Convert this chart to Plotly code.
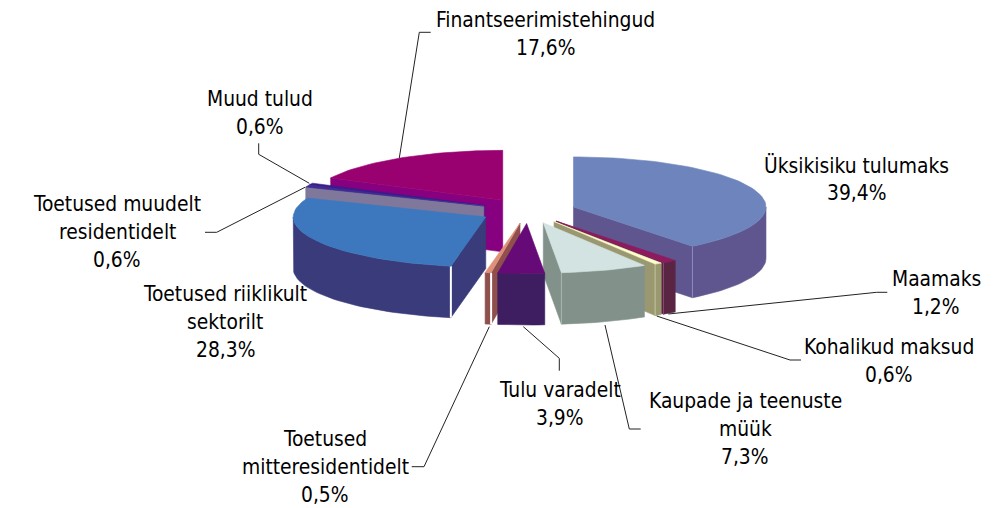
import math
import plotly.graph_objects as go

# --- data (clockwise from 12 o'clock) ---
names = [
    ["Üksikisiku tulumaks"],
    ["Maamaks"],
    ["Kohalikud maksud"],
    ["Kaupade ja teenuste", "müük"],
    ["Tulu varadelt"],
    ["Toetused", "mitteresidentidelt"],
    ["Toetused riiklikult", "sektorilt"],
    ["Toetused muudelt", "residentidelt"],
    ["Muud tulud"],
    ["Finantseerimistehingud"],
]
values = [39.4, 1.2, 0.6, 7.3, 3.9, 0.5, 28.3, 0.6, 0.6, 17.6]
value_labels = ["39,4%", "1,2%", "0,6%", "7,3%", "3,9%", "0,5%", "28,3%", "0,6%", "0,6%", "17,6%"]

# --- styles ---
top_colors = ["#6E84BC", "#8F1B5F", "#FFFFCC", "#D3E3E1", "#660A77", "#E09078",
              "#3D78BE", "#3F2C93", "#3B1B8C", "#990070"]
side_colors = ["#5F5690", "#5A2543", "#9A9870", "#82928B", "#3E1D60", "#8E4F4D",
               "#393B7A", "#80789A", "#3B1B8C", "#870080"]
junction_colors = ["#8A90C0", "#8A4A70", "#C8C8A0", "#A8B8B2", None, "#FFFFFF",
                   "#FFFFFF", None, None, None]
junction_widths = [1, 1, 1, 1, 0, 2, 2, 0, 0, 0]
# painter's order, back to front
draw_order = [9, 0, 8, 7, 6, 1, 2, 3, 5, 4]

# --- projection of the pie ---
CX, CY = 528.0, 211.0
RX, RY = 192.5, 50.0
DEPTH = 51.5
EXPLODE = 0.25
STEP = 2.0

# --- label layout: centre x, first line centre y ---
label_pos = [(856, 165), (936, 279), (889, 347), (745, 401), (560, 390),
             (325, 439), (225, 294), (117, 204), (260, 99), (545, 20)]
LINE_H = 28.2
FONT = "DejaVu Sans Condensed, DejaVu Sans"
FONT_SIZE = 20.8

# --- leader lines ---
leaders = [
    None,
    [(668.3, 314), (876.7, 292.3), (887.3, 292.3)],
    [(656.7, 316), (790, 360), (801, 360)],
    [(605, 325), (629.3, 429), (640.7, 429)],
    [(523.3, 326.7), (559.3, 358.3), (559.3, 370.7)],
    [(489.3, 326.7), (424, 466.7), (411.7, 466.7)],
    None,
    [(305, 187.3), (216.7, 232.3), (205, 232.3)],
    [(258.7, 143.3), (258.7, 154.3), (309.3, 183.3)],
    [(399.3, 158), (419.3, 32.3), (430.7, 32.3)],
]

total = sum(values)
bounds = []
acc = 0.0
for v in values:
    bounds.append((acc / total * 360, (acc + v) / total * 360))
    acc += v


def rim(ax, ay, deg):
    r = math.radians(deg)
    return ax + RX * math.sin(r), ay - RY * math.cos(r)


def arc(ax, ay, a0, a1):
    n = max(1, int(math.ceil((a1 - a0) / STEP)))
    return [rim(ax, ay, a0 + (a1 - a0) * k / n) for k in range(n + 1)]


def face(fig, pts, color):
    fig.add_trace(go.Scatter(
        x=[p[0] for p in pts] + [pts[0][0]],
        y=[p[1] for p in pts] + [pts[0][1]],
        mode="lines", fill="toself", fillcolor=color,
        line=dict(color=color, width=0.6),
        hoverinfo="skip", showlegend=False))


def down(p):
    return p[0], p[1] + DEPTH


fig = go.Figure()
for i in draw_order:
    a0, a1 = bounds[i]
    mid = math.radians((a0 + a1) / 2)
    ax = CX + EXPLODE * RX * math.sin(mid)
    ay = CY - EXPLODE * RY * math.cos(mid)
    apex = (ax, ay)
    ps, pe = rim(ax, ay, a0), rim(ax, ay, a1)
    # radial faces
    if math.sin(math.radians(a0)) < -1e-6:
        face(fig, [apex, ps, down(ps), down(apex)], side_colors[i])
    if math.sin(math.radians(a1)) > 1e-6:
        face(fig, [apex, pe, down(pe), down(apex)], side_colors[i])
    # outer wall
    w0, w1 = max(a0, 90), min(a1, 270)
    if w1 > w0:
        pts = arc(ax, ay, w0, w1)
        face(fig, pts + [down(p) for p in reversed(pts)], side_colors[i])
    # vertical junction highlight
    if junction_colors[i]:
        j = pe if i == 0 or math.sin(math.radians(a1)) > 0 else ps
        fig.add_trace(go.Scatter(
            x=[j[0], j[0]], y=[j[1], j[1] + DEPTH], mode="lines",
            line=dict(color=junction_colors[i], width=junction_widths[i]),
            hoverinfo="skip", showlegend=False))
    # top
    face(fig, [apex] + arc(ax, ay, a0, a1), top_colors[i])

for pts in leaders:
    if pts:
        fig.add_trace(go.Scatter(
            x=[p[0] for p in pts], y=[p[1] for p in pts], mode="lines",
            line=dict(color="#222222", width=1),
            hoverinfo="skip", showlegend=False))

annotations = []
for i, lines in enumerate(names):
    x, y = label_pos[i]
    for k, text in enumerate(lines + [value_labels[i]]):
        annotations.append(dict(
            x=x, y=y + k * LINE_H, xref="x", yref="y", text=text, showarrow=False,
            xanchor="center", yanchor="middle",
            font=dict(family=FONT, size=FONT_SIZE, color="#000000")))

fig.update_layout(
    width=995, height=508, margin=dict(l=0, r=0, t=0, b=0),
    paper_bgcolor="white", plot_bgcolor="white", showlegend=False,
    xaxis=dict(range=[0, 995], visible=False, fixedrange=True),
    yaxis=dict(range=[508, 0], visible=False, fixedrange=True),
    annotations=annotations,
)
fig.write_html(
    "out.html",
    config={"displayModeBar": False},
    post_script="document.body.style.margin='0';document.documentElement.style.overflow='hidden';",
)
